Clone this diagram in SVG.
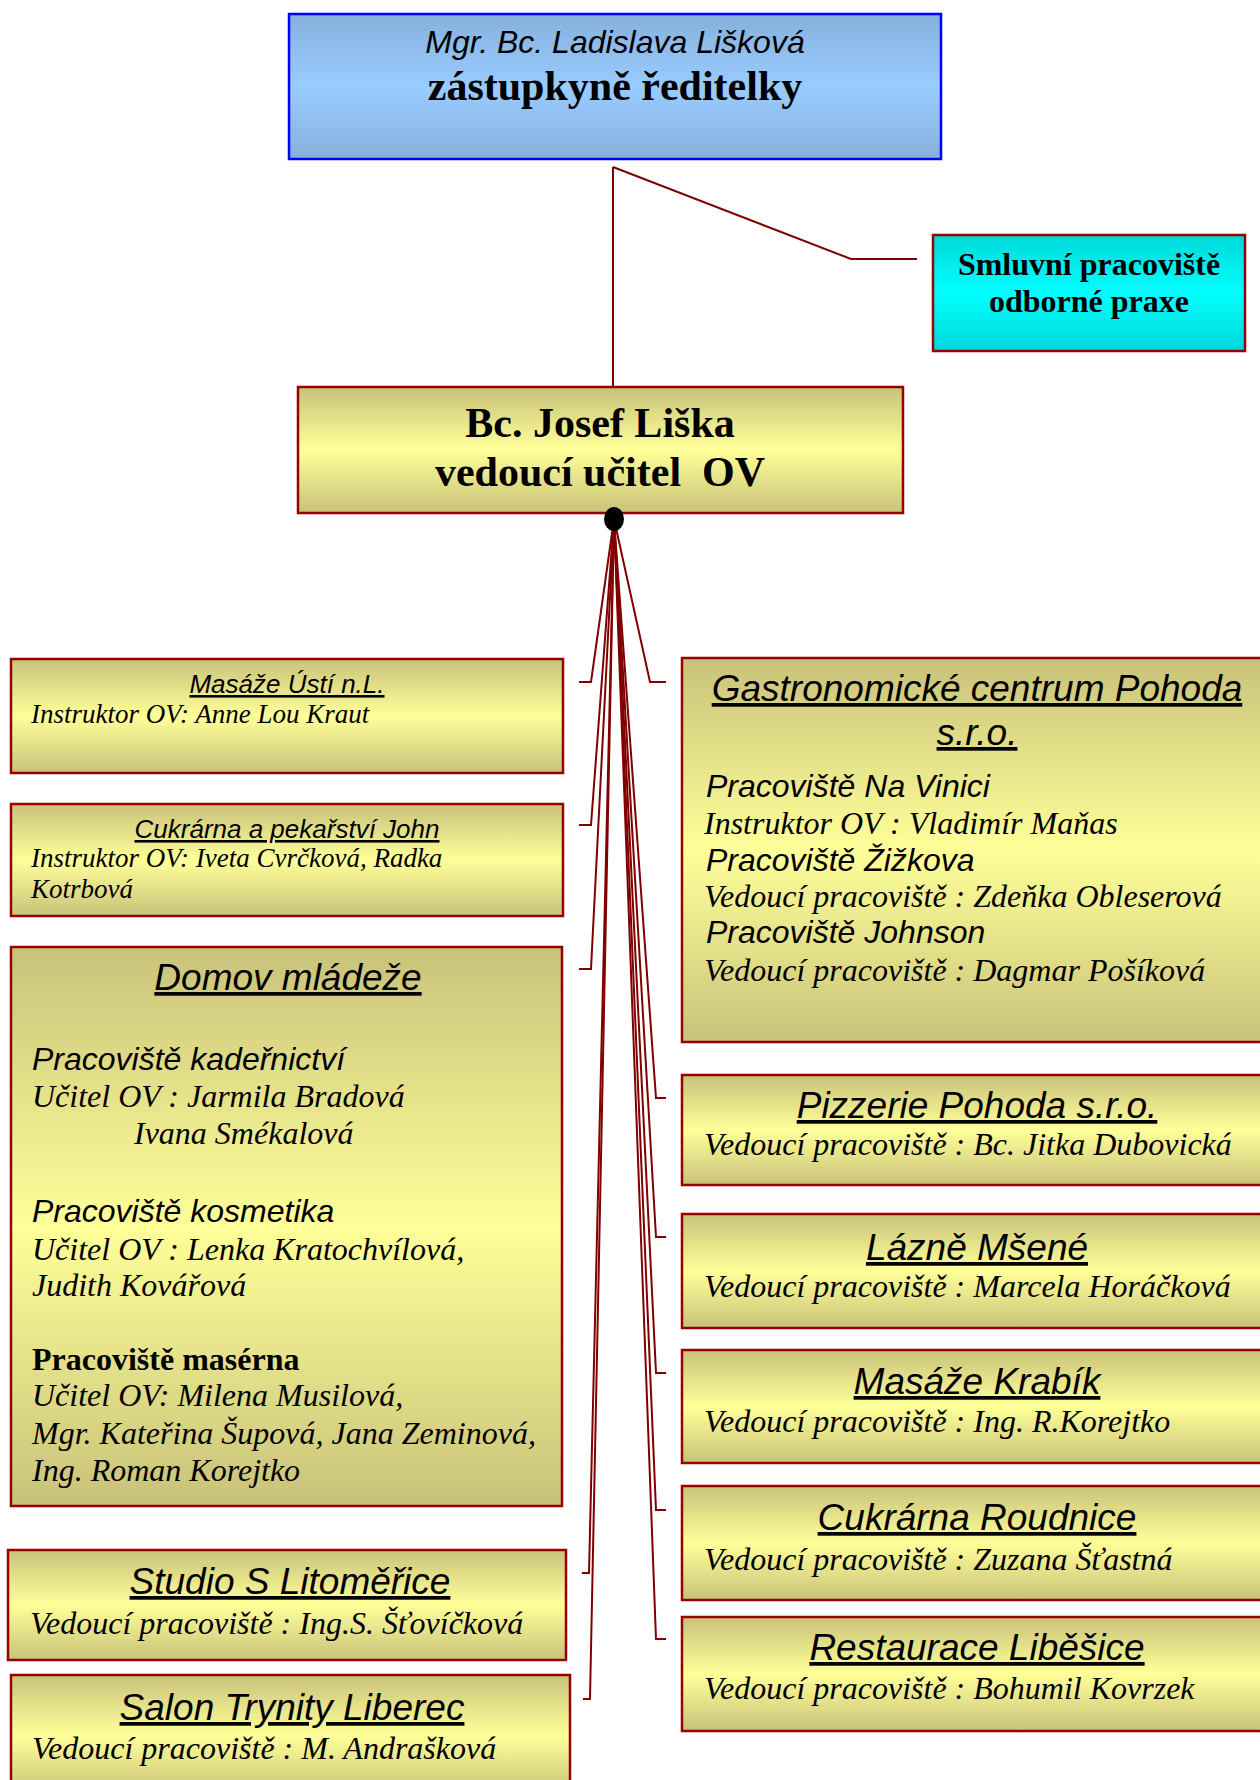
<svg xmlns="http://www.w3.org/2000/svg" width="1260" height="1780" viewBox="0 0 1260 1780">
<defs>
<linearGradient id="gy" x1="0" y1="0" x2="0" y2="1">
<stop offset="0" stop-color="#c8c27a"/><stop offset="0.5" stop-color="#ffff99"/><stop offset="1" stop-color="#c8c27a"/>
</linearGradient>
<linearGradient id="gb" x1="0" y1="0" x2="0" y2="1">
<stop offset="0" stop-color="#86b0dc"/><stop offset="0.5" stop-color="#99ccff"/><stop offset="1" stop-color="#86b0dc"/>
</linearGradient>
<linearGradient id="gc" x1="0" y1="0" x2="0" y2="1">
<stop offset="0" stop-color="#00d8d8"/><stop offset="0.5" stop-color="#00ffff"/><stop offset="1" stop-color="#00d8d8"/>
</linearGradient>
</defs>
<style>
.box{fill:url(#gy);stroke:#990000;stroke-width:2.5}
.con{fill:none;stroke:#800000;stroke-width:2}
.hs{font-family:"Liberation Sans",Arial,sans-serif;font-style:italic;fill:#000}
.ul{text-decoration:underline}
.sr{font-family:"Liberation Serif","Times New Roman",serif;font-style:italic;fill:#000}
.bs{font-family:"Liberation Serif","Times New Roman",serif;font-weight:bold;fill:#000}
.c{text-anchor:middle}
</style>
<rect width="1260" height="1780" fill="#fff"/>

<g id="connectors">
<polyline class="con" points="613,167 613,387"/>
<polyline class="con" points="613,167 851,259 917,259"/>
<polyline class="con" points="614,519 591,682 579,682"/>
<polyline class="con" points="614,519 591,825 579,825"/>
<polyline class="con" points="614,519 591,969 579,969"/>
<polyline class="con" points="614,519 589,1573 582,1573"/>
<polyline class="con" points="614,519 590,1699 583,1699"/>
<polyline class="con" points="614,519 650,682 666,682"/>
<polyline class="con" points="614,519 656,1098 666,1098"/>
<polyline class="con" points="614,519 656,1237 666,1237"/>
<polyline class="con" points="614,519 656,1373 666,1373"/>
<polyline class="con" points="614,519 656,1510 666,1510"/>
<polyline class="con" points="614,519 656,1639 666,1639"/>
</g>

<g id="n-zastupkyne">
<rect x="289" y="14" width="652" height="145" fill="url(#gb)" stroke="#0000ff" stroke-width="2.5"/>
<text class="hs c" x="615" y="53" font-size="32">Mgr. Bc. Ladislava Lišková</text>
<text class="bs c" x="615" y="100" font-size="42">zástupkyně ředitelky</text>
</g>

<g id="n-smluvni">
<rect x="933" y="235" width="312" height="116" fill="url(#gc)" stroke="#990000" stroke-width="2.5"/>
<text class="bs c" x="1089" y="275" font-size="32">Smluvní pracoviště</text>
<text class="bs c" x="1089" y="312" font-size="32">odborné praxe</text>
</g>

<g id="n-liska">
<rect class="box" x="298" y="387" width="605" height="126"/>
<text class="bs c" x="600" y="437" font-size="42">Bc. Josef Liška</text>
<text class="bs c" x="600" y="486" font-size="42" style="white-space:pre">vedoucí učitel  OV</text>
<ellipse cx="614" cy="519" rx="10" ry="12" fill="#000"/>
</g>

<g id="n-masaze-usti">
<rect class="box" x="11" y="659" width="552" height="114"/>
<text class="hs ul c" x="287" y="693" font-size="26">Masáže Ústí n.L.</text>
<text class="sr" x="31" y="723" font-size="27">Instruktor OV: Anne Lou Kraut</text>
</g>

<g id="n-cukrarna-john">
<rect class="box" x="11" y="804" width="552" height="112"/>
<text class="hs ul c" x="287" y="838" font-size="26">Cukrárna a pekařství John</text>
<text class="sr" x="31" y="867" font-size="27">Instruktor OV: Iveta Cvrčková, Radka</text>
<text class="sr" x="31" y="898" font-size="27">Kotrbová</text>
</g>

<g id="n-domov">
<rect class="box" x="11" y="947" width="551" height="559"/>
<text class="hs ul c" x="288" y="990" font-size="37">Domov mládeže</text>
<text class="hs" x="32" y="1070" font-size="32">Pracoviště kadeřnictví</text>
<text class="sr" x="32" y="1107" font-size="32">Učitel OV : Jarmila Bradová</text>
<text class="sr" x="134" y="1144" font-size="32">Ivana Smékalová</text>
<text class="hs" x="32" y="1222" font-size="32">Pracoviště kosmetika</text>
<text class="sr" x="32" y="1260" font-size="32">Učitel OV : Lenka Kratochvílová,</text>
<text class="sr" x="32" y="1296" font-size="32">Judith Kovářová</text>
<text class="bs" x="32" y="1370" font-size="32">Pracoviště masérna</text>
<text class="sr" x="32" y="1406" font-size="32">Učitel OV: Milena Musilová,</text>
<text class="sr" x="32" y="1444" font-size="32">Mgr. Kateřina Šupová, Jana Zeminová,</text>
<text class="sr" x="32" y="1481" font-size="32">Ing. Roman Korejtko</text>
</g>

<g id="n-studio">
<rect class="box" x="8" y="1550" width="558" height="110"/>
<text class="hs ul c" x="290" y="1594" font-size="37">Studio S Litoměřice</text>
<text class="sr" x="30" y="1634" font-size="32">Vedoucí pracoviště : Ing.S. Šťovíčková</text>
</g>

<g id="n-salon">
<rect class="box" x="11" y="1675" width="559" height="120"/>
<text class="hs ul c" x="292" y="1720" font-size="37">Salon Trynity Liberec</text>
<text class="sr" x="32" y="1759" font-size="32">Vedoucí pracoviště : M. Andrašková</text>
</g>

<g id="n-gastro">
<rect class="box" x="682" y="658" width="600" height="384"/>
<text class="hs ul c" x="977" y="701" font-size="37">Gastronomické centrum Pohoda</text>
<text class="hs ul c" x="977" y="745" font-size="37">s.r.o.</text>
<text class="hs" x="706" y="797" font-size="32">Pracoviště Na Vinici</text>
<text class="sr" x="704" y="834" font-size="32">Instruktor OV : Vladimír Maňas</text>
<text class="hs" x="706" y="871" font-size="32">Pracoviště Žižkova</text>
<text class="sr" x="704" y="907" font-size="32">Vedoucí pracoviště : Zdeňka Obleserová</text>
<text class="hs" x="706" y="943" font-size="32">Pracoviště Johnson</text>
<text class="sr" x="704" y="981" font-size="32">Vedoucí pracoviště : Dagmar Pošíková</text>
</g>

<g id="n-pizzerie">
<rect class="box" x="682" y="1075" width="600" height="110"/>
<text class="hs ul c" x="977" y="1118" font-size="37">Pizzerie Pohoda s.r.o.</text>
<text class="sr" x="704" y="1155" font-size="32">Vedoucí pracoviště : Bc. Jitka Dubovická</text>
</g>

<g id="n-lazne">
<rect class="box" x="682" y="1214" width="600" height="114"/>
<text class="hs ul c" x="977" y="1260" font-size="37">Lázně Mšené</text>
<text class="sr" x="704" y="1297" font-size="32">Vedoucí pracoviště : Marcela Horáčková</text>
</g>

<g id="n-krabik">
<rect class="box" x="682" y="1350" width="600" height="113"/>
<text class="hs ul c" x="977" y="1394" font-size="37">Masáže Krabík</text>
<text class="sr" x="704" y="1432" font-size="32">Vedoucí pracoviště : Ing. R.Korejtko</text>
</g>

<g id="n-roudnice">
<rect class="box" x="682" y="1486" width="600" height="114"/>
<text class="hs ul c" x="977" y="1530" font-size="37">Cukrárna Roudnice</text>
<text class="sr" x="704" y="1570" font-size="32">Vedoucí pracoviště : Zuzana Šťastná</text>
</g>

<g id="n-libesice">
<rect class="box" x="682" y="1617" width="600" height="114"/>
<text class="hs ul c" x="977" y="1660" font-size="37">Restaurace Liběšice</text>
<text class="sr" x="704" y="1699" font-size="32">Vedoucí pracoviště : Bohumil Kovrzek</text>
</g>
</svg>
